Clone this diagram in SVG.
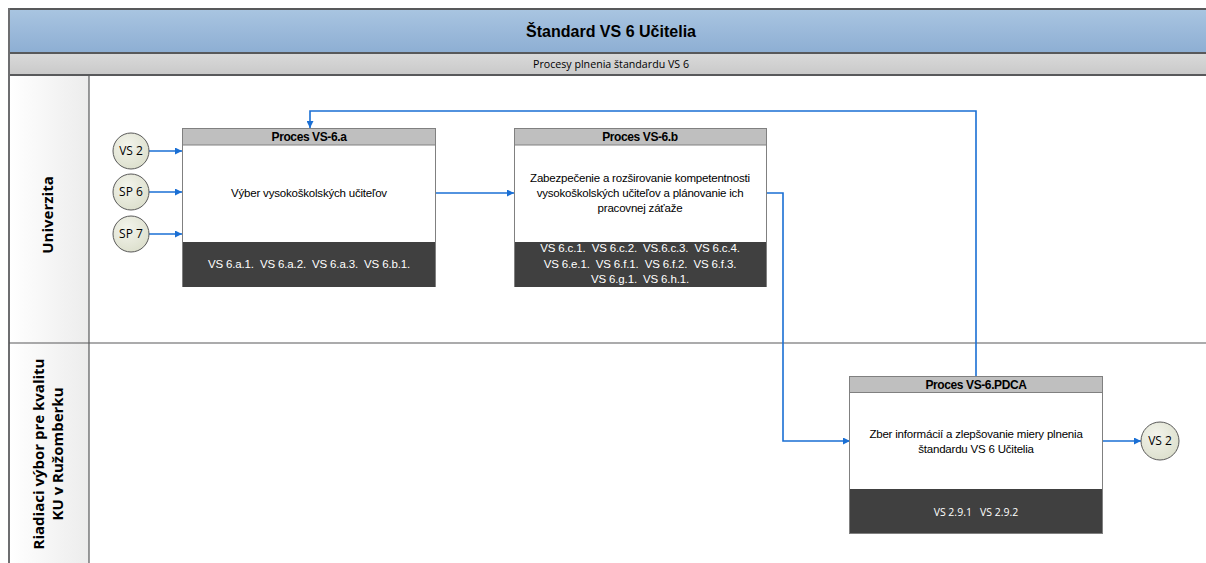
<svg xmlns="http://www.w3.org/2000/svg" width="1206" height="563" viewBox="0 0 1206 563">
<defs>
<linearGradient id="gTitle" x1="0" y1="0" x2="0" y2="1"><stop offset="0" stop-color="#a9c5e1"/><stop offset="1" stop-color="#8daed3"/></linearGradient>
<linearGradient id="gSub" x1="0" y1="0" x2="0" y2="1"><stop offset="0" stop-color="#dadada"/><stop offset="1" stop-color="#c9c9c9"/></linearGradient>
<linearGradient id="gLane" x1="0" y1="0" x2="1" y2="0"><stop offset="0" stop-color="#ffffff"/><stop offset="1" stop-color="#ececec"/></linearGradient>
<radialGradient id="gCirc" cx="0.4" cy="0.35" r="0.7"><stop offset="0" stop-color="#f3f4ec"/><stop offset="1" stop-color="#dcdfcc"/></radialGradient>
<marker id="arr" viewBox="0 0 10 10" refX="10" refY="5" markerWidth="7" markerHeight="7" markerUnits="userSpaceOnUse" orient="auto"><path d="M0,0 L10,5 L0,10 z" fill="#1a6fd4"/></marker>
</defs>
<style>
.frame{stroke:#58595b;stroke-width:2}
.hdr{fill:#bfbfbf;stroke:#808080;stroke-width:1}
.body{fill:#ffffff;stroke:#808080;stroke-width:1}
.foot{fill:#404040}
.ht{font-family:"Liberation Sans",Arial,sans-serif;font-size:12px;font-weight:bold;fill:#000;text-anchor:middle;letter-spacing:-0.4px}
.bt{font-family:"Liberation Sans",Arial,sans-serif;font-size:11.5px;fill:#000;text-anchor:middle;letter-spacing:-0.2px}
.ft{font-family:"Liberation Sans",Arial,sans-serif;font-size:11.5px;fill:#ffffff;text-anchor:middle;letter-spacing:-0.15px;white-space:pre}
.ftc{font-family:"Open Sans","Liberation Sans",sans-serif;font-size:10.5px;fill:#ffffff;text-anchor:middle;white-space:pre}
.circ{fill:url(#gCirc);stroke:#595959;stroke-width:1}
.ct{font-family:"Open Sans","Liberation Sans",sans-serif;font-size:12px;fill:#000;text-anchor:middle}
.lane{font-family:"Open Sans","Noto Sans",sans-serif;font-size:15px;font-weight:bold;fill:#000;text-anchor:middle}
.con{fill:none;stroke:#1a6fd4;stroke-width:1.6}
</style>
<rect width="1206" height="563" fill="#ffffff"/>
<g id="pool">
<rect x="9" y="9" width="1200" height="44" fill="url(#gTitle)"/>
<rect x="9" y="53" width="1200" height="22" fill="url(#gSub)"/>
<rect x="9" y="75" width="80" height="490" fill="url(#gLane)"/>
<line x1="9" y1="9" x2="1206" y2="9" class="frame"/>
<line x1="9" y1="53" x2="1206" y2="53" class="frame"/>
<line x1="9" y1="75" x2="1206" y2="75" class="frame"/>
<line x1="9" y1="8" x2="9" y2="563" stroke="#6d6e70" stroke-width="2"/>
<line x1="89" y1="75" x2="89" y2="563" stroke="#58595b" stroke-width="1.2"/>
<line x1="9" y1="343" x2="1206" y2="343" stroke="#58595b" stroke-width="1.2"/>
<text x="611" y="37" font-family="Liberation Sans,Arial,sans-serif" font-size="16" font-weight="bold" text-anchor="middle" textLength="170" lengthAdjust="spacingAndGlyphs">Štandard VS 6 Učitelia</text>
<text x="611" y="68" font-family="Open Sans,Liberation Sans,sans-serif" font-size="10" text-anchor="middle" textLength="156" lengthAdjust="spacingAndGlyphs">Procesy plnenia štandardu VS 6</text>
</g>
<g id="lane-univerzita">
<text class="lane" transform="translate(53,215) rotate(-90)">Univerzita</text>
</g>
<g id="lane-riadiaci">
<text class="lane" transform="translate(44,454) rotate(-90)">Riadiaci výbor pre kvalitu</text>
<text class="lane" transform="translate(63,454) rotate(-90)">KU v Ružomberku</text>
</g>
<g id="connectors">
<line class="con" x1="149" y1="151" x2="182" y2="151" marker-end="url(#arr)"/>
<line class="con" x1="149" y1="192" x2="182" y2="192" marker-end="url(#arr)"/>
<line class="con" x1="149" y1="234" x2="182" y2="234" marker-end="url(#arr)"/>
<line class="con" x1="436" y1="193" x2="514" y2="193" marker-end="url(#arr)"/>
<polyline class="con" points="767,193 783,193 783,441 850,441" marker-end="url(#arr)"/>
<polyline class="con" points="976,376 976,111 310,111 310,128" marker-end="url(#arr)"/>
<line class="con" x1="1103" y1="441" x2="1141" y2="441" marker-end="url(#arr)"/>
</g>
<g id="vs2-in">
<circle class="circ" cx="131" cy="151" r="18"/>
<text class="ct" x="131" y="155">VS 2</text>
</g>
<g id="sp6">
<circle class="circ" cx="131" cy="192" r="18"/>
<text class="ct" x="131" y="196">SP 6</text>
</g>
<g id="sp7">
<circle class="circ" cx="131" cy="234" r="18"/>
<text class="ct" x="131" y="238">SP 7</text>
</g>
<g id="proces-a">
<rect class="body" x="182.5" y="128.5" width="253" height="158"/>
<rect class="hdr" x="182.5" y="128.5" width="253" height="16.5"/>
<rect class="foot" x="183" y="242" width="252" height="45"/>
<text class="ht" x="309" y="141">Proces VS-6.a</text>
<text class="bt" x="309" y="197">Výber vysokoškolských učiteľov</text>
<text class="ft" x="309" y="268">VS 6.a.1.  VS 6.a.2.  VS 6.a.3.  VS 6.b.1.</text>
</g>
<g id="proces-b">
<rect class="body" x="514.5" y="128.5" width="252" height="158"/>
<rect class="hdr" x="514.5" y="128.5" width="252" height="16.5"/>
<rect class="foot" x="515" y="242" width="251" height="45"/>
<text class="ht" x="640" y="141">Proces VS-6.b</text>
<text class="bt" x="640" y="182">Zabezpečenie a rozširovanie kompetentnosti</text>
<text class="bt" x="640" y="197">vysokoškolských učiteľov a plánovanie ich</text>
<text class="bt" x="640" y="212">pracovnej záťaže</text>
<text class="ft" x="640" y="252">VS 6.c.1.  VS 6.c.2.  VS.6.c.3.  VS 6.c.4.</text>
<text class="ft" x="640" y="268">VS 6.e.1.  VS 6.f.1.  VS 6.f.2.  VS 6.f.3.</text>
<text class="ft" x="640" y="283">VS 6.g.1.  VS 6.h.1.</text>
</g>
<g id="proces-pdca">
<rect class="body" x="849.5" y="376.5" width="253" height="157"/>
<rect class="hdr" x="849.5" y="376.5" width="253" height="16"/>
<rect class="foot" x="850" y="489" width="252" height="44"/>
<text class="ht" x="976" y="389">Proces VS-6.PDCA</text>
<text class="bt" x="976" y="438">Zber informácií a zlepšovanie miery plnenia</text>
<text class="bt" x="976" y="453">štandardu VS 6 Učitelia</text>
<text class="ftc" x="976" y="516">VS 2.9.1   VS 2.9.2</text>
</g>
<g id="vs2-out">
<circle class="circ" cx="1160" cy="441" r="19"/>
<text class="ct" x="1160" y="445">VS 2</text>
</g>
</svg>
